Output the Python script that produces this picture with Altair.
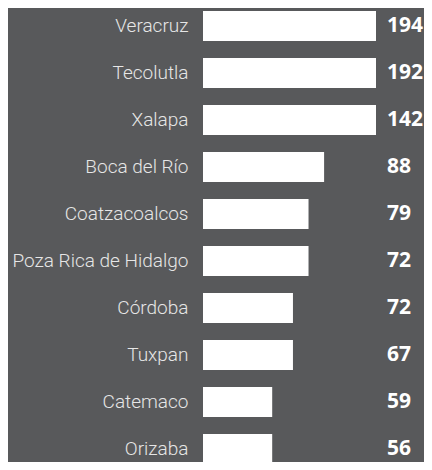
import altair as alt
import pandas as pd

cities = ["Veracruz", "Tecolutla", "Xalapa", "Boca del Río", "Coatzacoalcos",
          "Poza Rica de Hidalgo", "Córdoba", "Tuxpan", "Catemaco", "Orizaba"]
counts = [194, 192, 142, 88, 79, 72, 72, 67, 59, 56]
# bar lengths as drawn in the picture (Veracruz bar = 100)
bar_index = [100, 100, 100, 70, 61, 61, 52, 52, 40, 40]

df = pd.DataFrame({"city": cities, "count": counts, "bar": bar_index})

BG = "#58595b"

y = alt.Y("city:N", sort=cities, title=None,
          scale=alt.Scale(paddingInner=0.3617, paddingOuter=0.0638, range=[0, 459]),
          axis=alt.Axis(ticks=False, domain=False, labelPadding=15,
                        labelFont="Roboto", labelFontWeight=300,
                        labelFontSize=19, labelColor="#e6e6e6",
                        labelLimit=0, grid=False))

bars = alt.Chart(df).mark_bar(color="#ffffff").encode(
    x=alt.X("bar:Q", scale=alt.Scale(domain=[0, 100]), axis=None),
    y=y,
)

values = alt.Chart(df).mark_text(
    align="left", baseline="middle", font="Open Sans", fontWeight="bold",
    fontSize=21, color="#ffffff"
).encode(
    x=alt.value(184),
    y=alt.Y("city:N", sort=cities),
    text=alt.Text("count:Q"),
)

chart = (bars + values).properties(
    width=173, height=454,
    background=BG,
    autosize=alt.AutoSizeParams(type="none"),
    padding={"left": 195, "top": 0, "right": 48, "bottom": 0},
).configure_view(stroke=None)

chart.save("out.html", embed_options={"renderer": "svg", "actions": False})
